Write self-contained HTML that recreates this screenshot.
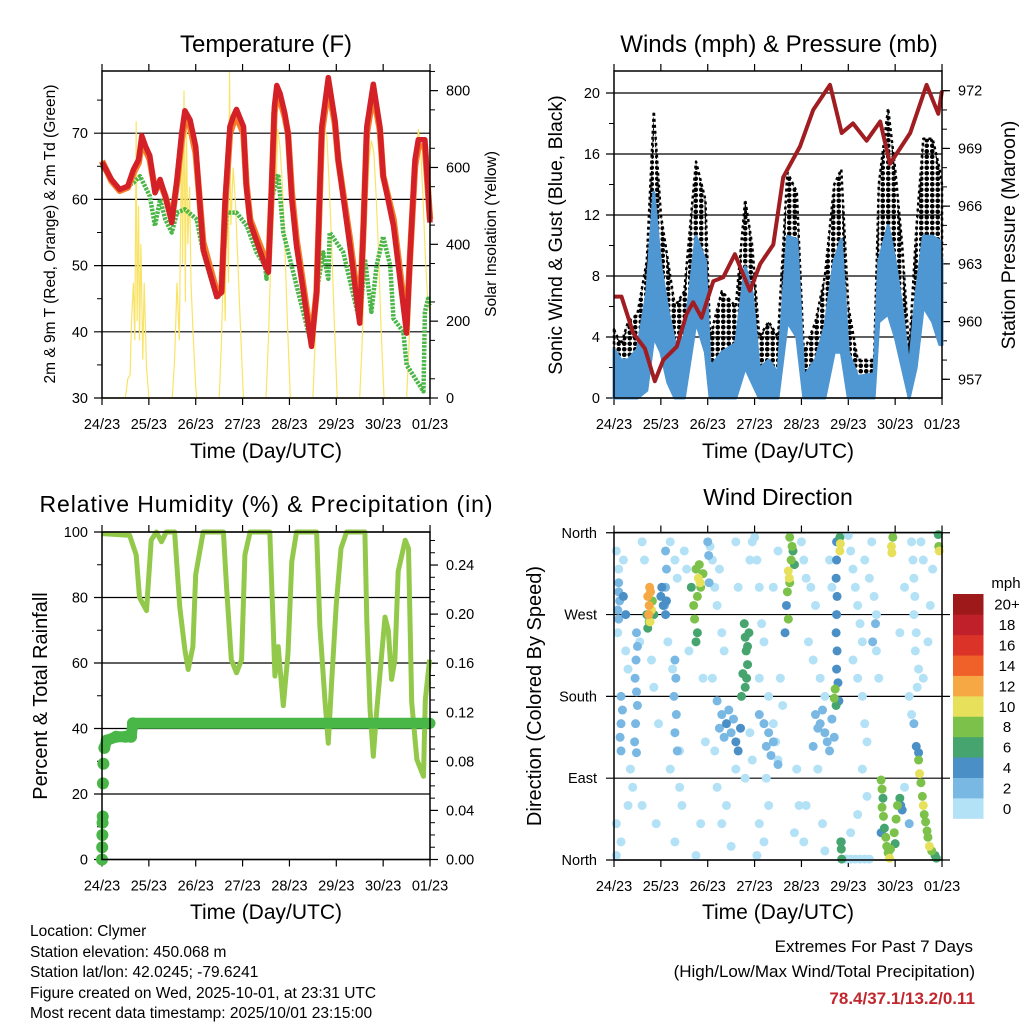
<!DOCTYPE html>
<html><head><meta charset="utf-8"><title>Clymer station meteogram</title>
<style>
html,body{margin:0;padding:0;background:#fff;}
svg{display:block;font-family:"Liberation Sans",Arial,sans-serif;}
</style></head>
<body>
<svg id="chart" width="1024" height="1024" viewBox="0 0 1024 1024" xmlns="http://www.w3.org/2000/svg">
<defs>
<pattern id="gustdots" width="5.5" height="5.5" patternUnits="userSpaceOnUse"><circle cx="2.75" cy="2.75" r="2.3" fill="#000"/></pattern>
</defs>
<rect x="0" y="0" width="1024" height="1024" fill="#fff"/>
<text x="266" y="52" font-size="24" text-anchor="middle">Temperature (F)</text>
<text x="779" y="52" font-size="24" text-anchor="middle">Winds (mph) &amp; Pressure (mb)</text>
<text x="266" y="512" font-size="23" text-anchor="middle" textLength="453">Relative Humidity (%) &amp; Precipitation (in)</text>
<text x="778" y="505" font-size="23" text-anchor="middle">Wind Direction</text>
<text transform="translate(55,234) rotate(-90)" font-size="15.5" text-anchor="middle">2m &amp; 9m T (Red, Orange) &amp; 2m Td (Green)</text>
<text transform="translate(496,234) rotate(-90)" font-size="15.5" text-anchor="middle">Solar Insolation (Yellow)</text>
<text transform="translate(562,235) rotate(-90)" font-size="19.5" text-anchor="middle">Sonic Wind &amp; Gust (Blue, Black)</text>
<text transform="translate(1015,235) rotate(-90)" font-size="19.5" text-anchor="middle">Station Pressure (Maroon)</text>
<text transform="translate(47,696) rotate(-90)" font-size="20" text-anchor="middle">Percent &amp; Total Rainfall</text>
<text transform="translate(541,696) rotate(-90)" font-size="20" text-anchor="middle">Direction (Colored By Speed)</text>
<text x="266" y="458" font-size="21" text-anchor="middle">Time (Day/UTC)</text>
<text x="778" y="458" font-size="21" text-anchor="middle">Time (Day/UTC)</text>
<text x="266" y="919" font-size="21" text-anchor="middle">Time (Day/UTC)</text>
<text x="778" y="919" font-size="21" text-anchor="middle">Time (Day/UTC)</text>
<g font-size="15.5">
<text x="30" y="936">Location: Clymer</text>
<text x="30" y="957">Station elevation: 450.068 m</text>
<text x="30" y="977">Station lat/lon: 42.0245; -79.6241</text>
<text x="30" y="998">Figure created on Wed, 2025-10-01, at 23:31 UTC</text>
<text x="30" y="1018">Most recent data timestamp: 2025/10/01 23:15:00</text>
</g>
<g font-size="17" text-anchor="end">
<text x="973" y="952">Extremes For Past 7 Days</text>
<text x="975" y="977">(High/Low/Max Wind/Total Precipitation)</text>
<text x="975" y="1004" font-weight="bold" fill="#c1272d">78.4/37.1/13.2/0.11</text>
</g>
</svg>
<script>
// ---------- data ----------
const dayLabels=["24/23","25/23","26/23","27/23","28/23","29/23","30/23","01/23"];
const tempTicks=[30,40,50,60,70];
const solarTicks=[0,200,400,600,800];
const windTicks=[0,4,8,12,16,20];
const presTicks=[957,960,963,966,969,972];
const rhTicks=[0,20,40,60,80,100];
const precipTicks=["0.00","0.04","0.08","0.12","0.16","0.20","0.24"];
const dirTicks=[0,90,180,270,360];
const dirLabels=["North","East","South","West","North"];

const redT=[0,0.2,0.38,0.55,0.67,0.78,0.85,0.93,1.02,1.13,1.24,1.35,1.49,1.6,1.7,1.77,1.88,2.0,2.16,2.45,2.55,2.63,2.73,2.8,2.87,3.02,3.08,3.16,3.48,3.55,3.62,3.68,3.73,3.8,3.9,3.97,4.05,4.15,4.47,4.58,4.69,4.83,4.97,5.04,5.29,5.5,5.58,5.65,5.79,5.93,6.0,6.22,6.5,6.57,6.68,6.75,6.89,7.0];
const redV=[65.6,63,61.5,62,64.5,66,69.6,68,66.6,61,63,60.5,56.5,63,70,73.4,72,68,52.4,45.3,46,60,71,72.5,73.6,71,62,56.5,50,49,62,74,77.2,76,73,70,60,53,37.8,46,71,78.4,72,66,53,41.3,56,71,77.4,71,63.5,56,39.8,51,66,69,69,56.5];
const orangeV=[65.8,62.8,61.3,61.8,64,65.5,68.5,67.5,66,61.5,62.5,60.5,57,62.5,69,72,71,67,53.5,46,46,59,70,71.5,72.5,70,62.5,57,51,50,61,73,76,75,72.5,70,61,54,38.5,46,70,77,71.5,66,54,42.5,56,70,76,70.5,63.5,57,41,51,65,68,68,57];
const greenT=[0,0.38,0.67,0.81,1.02,1.13,1.24,1.35,1.49,1.6,1.77,2.02,2.16,2.45,2.55,2.66,2.87,3.09,3.3,3.48,3.51,3.62,3.76,3.87,4.01,4.47,4.58,4.72,4.83,4.86,5.15,5.5,5.61,5.75,5.86,6.0,6.15,6.22,6.43,6.5,6.68,6.86,6.89,6.96,7.0];
const greenV=[65,61.5,62.5,63.5,60.5,56,60,57,55,58,58.5,57,52,45,46,58,58,56,52,50,48,60,63.8,55,51,38,46,52,48,55,52,41.5,51,43,50,54.4,50,42,40,35,33,31,43,45,44];
const solarT=[0,0.5,0.55,0.6,0.63,0.67,0.7,0.73,0.75,0.78,0.8,0.83,0.87,0.9,0.95,1.0,1.5,1.55,1.6,1.65,1.7,1.72,1.75,1.78,1.8,1.83,1.87,1.9,1.95,2.0,2.02,2.5,2.55,2.6,2.63,2.66,2.7,2.72,2.75,2.8,2.85,2.9,2.95,3.0,3.02,3.5,3.55,3.6,3.65,3.7,3.72,3.75,3.8,3.85,3.9,3.95,4.0,4.02,4.5,4.55,4.6,4.65,4.7,4.72,4.75,4.8,4.85,4.9,4.95,5.0,5.02,5.5,5.55,5.6,5.65,5.7,5.75,5.8,5.85,5.9,5.95,6.0,6.02,6.5,6.55,6.6,6.65,6.7,6.75,6.8,6.85,6.9,6.95,7.0];
const solarV=[0,0,50,60,200,300,150,720,200,500,150,400,100,300,80,0,0,100,300,150,700,350,800,250,750,400,550,300,150,30,0,0,150,400,200,600,300,850,450,600,500,350,200,50,0,0,150,350,500,620,560,700,650,550,400,220,60,0,0,150,350,500,650,600,700,680,550,400,220,60,0,0,140,330,500,620,670,640,530,380,200,50,0,0,130,330,480,600,700,650,520,370,250,220];

const windT=[0,0.15,0.3,0.5,0.7,0.85,1.0,1.15,1.3,1.5,1.75,1.95,2.05,2.3,2.6,2.8,2.95,3.1,3.3,3.5,3.7,3.9,4.05,4.3,4.5,4.7,4.85,5.0,5.2,5.55,5.65,5.85,6.0,6.15,6.3,6.45,6.6,6.8,6.95,7.0];
const windHi=[3.2,2.5,2.5,3.2,6.9,13.5,8.6,5.8,3.6,4,10.6,9,2,3,3.6,8.6,6.9,1.9,2.5,1.6,10.6,10.4,1.4,2.5,4.7,9,10.4,3,1.4,1.6,9,11.3,9,5.8,1.9,6.9,10.6,10.6,10.3,9];
const windLo=[0,0,0,0,0.5,4,3,1,0,0,5,3,0,0,0,2,1,0,0,0,5,4,0,0,0,3,3,0,0,0,5,5.5,4,2,0,2,6,5,3.5,3.5];
const gustHi=[4.5,3.5,5,5.5,9,18.8,12,9,6,7,15.5,13,4,7,6,13,10,4,5,4,14.8,13.5,3,5,8,14,15,6,2.5,2.5,14,19,15,10,3,11,17,17,15,14];
const presT=[0,0.16,0.41,0.66,0.87,1.05,1.34,1.55,1.69,1.87,2.12,2.33,2.58,2.9,3.12,3.4,3.61,3.97,4.25,4.61,4.86,5.1,5.39,5.68,5.89,6.32,6.67,6.92,7.0];
const presV=[961.3,961.3,959.4,958.6,956.9,958,958.7,960.4,961,960.2,962.1,962.3,963.5,961.6,963,964,967.5,969.1,971,972.3,969.8,970.3,969.4,970.4,968.2,969.8,972.3,970.8,972];

const rhT=[0,0.59,0.73,0.8,0.95,1.05,1.16,1.27,1.37,1.55,1.66,1.77,1.84,1.94,2.0,2.16,2.59,2.66,2.76,2.87,2.98,3.05,3.16,3.58,3.65,3.69,3.76,3.87,3.97,4.05,4.15,4.58,4.65,4.76,4.83,4.9,5.0,5.1,5.22,5.61,5.65,5.72,5.79,5.86,5.97,6.04,6.11,6.18,6.25,6.32,6.47,6.54,6.61,6.72,6.86,6.9,6.99];
const rhV=[99.5,99,93,80,76,97.5,100,97,100,100,77,64,58,65,87,100,100,83,61,57,61,93,100,100,73,56,65,47,63,91,100,100,71,48,35.5,54,78,95,100,100,73,46,31.5,45,63,74,70,55,61,88,97.5,95,48,30.5,25.4,48.7,61];
const precT=[0,0.004,0.008,0.012,0.016,0.02,0.03,0.05,0.1,0.3,0.5,0.62,0.66,1,2,3,4,5,6,7];
const precV=[0,0.01,0.02,0.03,0.035,0.062,0.078,0.091,0.097,0.1,0.1,0.1,0.111,0.111,0.111,0.111,0.111,0.111,0.111,0.111];

const speedColors=["#b3e1f6","#7ab8e4","#4a8fc6","#46a46e","#7cc24a","#e6e05a","#f6a845","#ef6128","#dc3328","#c0202a","#9e1a1a"];
const speedLabels=["0","2","4","6","8","10","12","14","16","18","20+"];
const obsSpeed1=[[0.05,340],[0.1,320],[0.2,330],[0.08,250],[0.25,230],[0.3,210],[0.35,100],[0.05,40],[0.15,20],[0.05,5],[0.3,60],[0.4,80],[0.6,350],[0.65,330],[0.55,240],[0.6,60],[0.9,40],[0.8,220],[0.85,190],[0.95,150],[1.2,350],[1.3,330],[1.35,310],[1.15,240],[1.25,210],[1.4,120],[1.45,60],[1.3,20],[1.5,340],[1.55,320],[1.6,230],[1.2,100],[1.4,80],[1.9,200],[1.95,130],[1.85,40],[1.75,5],[2.05,345],[2.1,330],[2.15,300],[2.2,280],[2.3,250],[2.25,320],[2.35,230],[2.1,200],[2.15,120],[2.2,80],[2.3,40],[2.5,15],[2.4,60],[2.6,350],[2.65,300],[2.9,330],[2.95,350],[2.6,100],[2.8,90],[2.9,140],[2.95,110],[3.0,355],[3.05,330],[3.1,300],[3.15,260],[3.2,240],[3.1,200],[3.3,180],[3.4,150],[3.45,130],[3.5,110],[3.25,90],[3.3,60],[3.1,40],[3.2,20],[3.05,5],[3.4,300],[3.5,340],[3.55,200],[3.6,170],[3.9,100],[3.95,60],[3.85,30],[4.0,350],[4.05,330],[4.1,310],[4.2,300],[4.3,280],[4.15,240],[4.25,220],[4.4,200],[4.5,180],[4.35,100],[4.1,60],[4.45,40],[4.6,330],[4.65,300],[4.05,20],[4.5,10],[5.0,357],[5.05,340],[5.1,320],[5.15,300],[5.2,280],[5.25,260],[5.3,240],[5.1,220],[5.2,200],[5.3,180],[5.35,150],[5.4,130],[5.3,100],[5.4,70],[5.2,50],[5.05,30],[4.95,1],[5.05,1],[5.15,1],[5.25,1],[5.35,1],[5.45,1],[5.35,330],[5.45,310],[5.55,290],[5.6,270],[5.5,350],[5.6,230],[5.65,200],[6.35,350],[6.38,330],[6.4,310],[6.42,290],[6.4,270],[6.45,250],[6.43,230],[6.5,210],[6.47,190],[6.55,350],[6.6,330],[6.2,300],[6.1,250],[6.3,180],[6.35,160],[6.6,200],[6.7,240],[6.75,280],[6.8,320],[6.2,80]];
const obsSpeed3=[[0.1,305],[0.1,295],[0.12,285],[0.08,275],[0.1,265],[0.48,250],[0.5,235],[0.47,220],[0.45,200],[0.48,185],[0.5,170],[0.46,150],[0.44,130],[0.48,118],[0.15,180],[0.18,165],[0.15,150],[0.13,135],[0.15,120],[1.1,340],[1.12,320],[1.1,300],[1.08,280],[1.3,220],[1.32,200],[1.28,180],[1.33,160],[1.3,140],[1.35,120],[2.0,350],[2.02,335],[2.03,305],[2.2,175],[2.3,160],[2.5,140],[2.55,155],[2.35,135],[2.45,165],[2.25,145],[3.1,160],[3.2,150],[3.3,140],[3.4,130],[3.35,115],[3.5,105],[3.25,125],[4.3,160],[4.4,150],[4.5,140],[4.55,130],[4.6,120],[4.45,165],[4.35,145],[4.65,155],[4.7,135],[4.25,125],[5.58,260],[5.52,240],[6.4,150],[6.3,40]];
const obsSpeed5=[[1.0,290],[1.05,280],[1.1,270],[1.02,300],[1.12,285],[2.4,150],[2.6,130],[2.7,145],[2.65,120],[3.68,280],[3.65,250],[4.75,350],[4.75,330],[4.74,310],[4.76,290],[4.75,270],[4.74,250],[4.76,230],[4.75,210],[4.78,195],[4.8,175],[6.45,125],[6.5,118],[6.12,60],[6.15,55],[4.85,20],[5.7,30],[0.2,290],[0.25,270]];
const obsSpeed7=[[2.78,260],[2.8,245],[2.82,230],[2.85,215],[2.83,200],[2.8,190],[2.88,250],[2.85,235],[2.75,205],[2.72,180],[0.7,270],[0.72,255],[0.85,270],[1.65,300],[1.78,250],[1.75,240],[3.82,340],[3.85,325],[4.74,170],[4.84,20],[4.85,12],[4.86,1],[4.82,355],[5.77,35],[5.74,68],[6.1,68],[6.0,18],[6.92,358],[6.85,5],[6.88,2]];
const obsSpeed9=[[0.75,262],[0.82,285],[1.75,320],[1.85,300],[1.78,290],[1.7,280],[1.72,265],[1.9,315],[1.82,325],[3.75,355],[3.8,345],[3.78,330],[3.75,305],[3.7,295],[3.72,265],[4.72,188],[4.7,178],[5.7,88],[5.72,78],[5.72,58],[5.75,48],[5.8,25],[5.82,15],[5.85,8],[5.9,12],[6.05,60],[6.02,45],[5.98,30],[6.55,85],[6.58,70],[6.62,50],[6.65,42],[6.68,32],[6.7,25],[6.78,10],[6.93,345],[5.95,355],[6.5,110]];
const obsSpeed11=[[0.8,275],[0.77,262],[1.8,310],[1.84,305],[3.72,318],[3.74,310],[4.83,348],[4.82,340],[5.92,345],[5.93,338],[6.52,95],[6.6,60],[6.73,15],[6.94,340],[5.88,2]];
const obsSpeed13=[[0.72,290],[0.75,280],[0.78,295],[0.76,300],[0.74,270]];
const obsGroups=[obsSpeed1,obsSpeed3,obsSpeed5,obsSpeed7,obsSpeed9,obsSpeed11,obsSpeed13];
const obsGroupSpeeds=[1,3,5,7,9,11,13];

// ---------- helpers ----------
const NS='http://www.w3.org/2000/svg';
const svg=document.getElementById('chart');
function mk(tag,attrs,parent){const e=document.createElementNS(NS,tag);for(const k in attrs)e.setAttribute(k,attrs[k]);(parent||svg).appendChild(e);return e;}
const DAY=46.86;
const P1={x0:102,x1:430,y0:71,y1:398};
const P2={x0:614,x1:942,y0:71,y1:398};
const P3={x0:102,x1:430,y0:532,y1:859.5};
const P4={x0:614,x1:942,y0:532.5,y1:860};
const xL=t=>P1.x0+t*DAY, xR=t=>P2.x0+t*DAY;
const yTemp=v=>398-(v-30)*6.62;
const ySolar=v=>398-v*0.3842;
const yWind=v=>398-v*15.25;
const yPres=v=>379.3-(v-957)*19.24;
const yRH=v=>859.5-v*3.275;
const yPrec=v=>859.5-v*1227;
const yDir=v=>860-v*0.909;
function pts(T,V,fx,fy){return T.map((t,i)=>fx(t).toFixed(1)+','+fy(V[i]).toFixed(1)).join(' ');}
function colorOf(s){return speedColors[Math.min(10,Math.max(0,Math.floor(s/2)))];}

function frame(P,name,leftMinor,leftMajorYs,rightYs,rightMinorYs,gridRight){
  const g=mk('g',{});
  
  
  leftMajorYs.forEach(y=>{
    const l=mk('line',{x1:P.x0-8,x2:P.x1+(gridRight?8:0),y1:y,y2:y,stroke:'#000','stroke-width':1.2},g);
    
    
  });
  leftMinor.forEach(y=>{
    const l=mk('line',{x1:P.x0-5,x2:P.x0,y1:y,y2:y,stroke:'#000','stroke-width':1},g);
    
    
  });
  rightYs.forEach(y=>{
    const l=mk('line',{x1:P.x1,x2:P.x1+8,y1:y,y2:y,stroke:'#000','stroke-width':1.2},g);
    
    
  });
  rightMinorYs.forEach(y=>{
    const l=mk('line',{x1:P.x1,x2:P.x1+5,y1:y,y2:y,stroke:'#000','stroke-width':1},g);
    
    
  });
  dayLabels.forEach((d,i)=>{
    const x=P.x0+i*DAY;
    const a=mk('line',{x1:x,x2:x,y1:P.y0-7,y2:P.y0,stroke:'#000','stroke-width':1.2},g);
    
    
    const b=mk('line',{x1:x,x2:x,y1:P.y1,y2:P.y1+7,stroke:'#000','stroke-width':1.2},g);
    
    
    const tx=mk('text',{x:x,y:P.y1+31,'font-size':14.5,'text-anchor':'middle'},g);
    
    
    tx.textContent=d;
  });
}
function boxRect(P,name){
  const r=mk('rect',{x:P.x0,y:P.y0,width:P.x1-P.x0,height:P.y1-P.y0,fill:'none',stroke:'#000','stroke-width':1.5});
  
  
}
function label(x,y,txt,anchor,name){
  const t=mk('text',{x:x,y:y,'font-size':14.5,'text-anchor':anchor});
  
  
  t.textContent=txt;
}
function range(a,b,s){const r=[];for(let v=a;v<=b+1e-9;v+=s)r.push(v);return r;}

// ---------- Panel 1: temperature ----------
frame(P1,'temperature',range(35,75,10).map(yTemp),tempTicks.map(yTemp),solarTicks.map(ySolar),range(50,850,100).map(ySolar),false);
tempTicks.forEach(v=>label(P1.x0-14,yTemp(v)+5,String(v),'end','temperature-y-tick-label'));
solarTicks.forEach(v=>label(P1.x1+16,ySolar(v)+5,String(v),'start','solar-y-tick-label'));
const solarLine=mk('polyline',{points:pts(solarT,solarV,xL,ySolar),fill:'none',stroke:'#f9e366','stroke-width':1.2});


const greenLine=mk('polyline',{points:pts(greenT,greenV,xL,yTemp),fill:'none',stroke:'#4bb648','stroke-width':4.5,'stroke-dasharray':'2.5 1.2','stroke-linejoin':'round'});


const orangeLine=mk('polyline',{points:pts(redT,orangeV,xL,yTemp),fill:'none',stroke:'#f47d2a','stroke-width':6.5,'stroke-linejoin':'round'});


const redLine=mk('polyline',{points:pts(redT,redV,xL,yTemp),fill:'none',stroke:'#d42027','stroke-width':5.5,'stroke-linejoin':'round'});


boxRect(P1,'temperature');

// ---------- Panel 2: winds & pressure ----------
frame(P2,'winds',range(2,18,4).map(yWind),windTicks.map(yWind),presTicks.map(yPres),range(957,972,1).map(yPres),false);
windTicks.forEach(v=>label(P2.x0-14,yWind(v)+5,String(v),'end','wind-y-tick-label'));
presTicks.forEach(v=>label(P2.x1+16,yPres(v)+5,String(v),'start','pressure-y-tick-label'));
function band(T,lo,hi,fx,fy){const up=T.map((t,i)=>fx(t).toFixed(1)+','+fy(hi[i]).toFixed(1));const dn=T.map((t,i)=>fx(t).toFixed(1)+','+fy(lo[i]).toFixed(1)).reverse();return up.concat(dn).join(' ');}
const gustBand=mk('polygon',{points:band(windT,windLo,gustHi,xR,yWind),fill:'url(#gustdots)',stroke:'#000','stroke-width':2.5,'stroke-dasharray':'3 3','stroke-linejoin':'round'});


const windBand=mk('polygon',{points:band(windT,windLo,windHi,xR,yWind),fill:'#4f97d3',stroke:'#4f97d3','stroke-width':3,'stroke-linejoin':'round'});


const presLine=mk('polyline',{points:pts(presT,presV,xR,yPres),fill:'none',stroke:'#a01d22','stroke-width':4,'stroke-linejoin':'round'});


boxRect(P2,'winds');

// ---------- Panel 3: RH & precip ----------
const precTickVals=precipTicks.map(Number);
frame(P3,'humidity',range(10,90,20).map(yRH),rhTicks.map(yRH),precTickVals.map(yPrec),range(0.01,0.26,0.01).map(yPrec),false);
rhTicks.forEach(v=>label(P3.x0-14,yRH(v)+5,String(v),'end','humidity-y-tick-label'));
precipTicks.forEach(v=>label(P3.x1+16,yPrec(Number(v))+5,v,'start','precip-y-tick-label'));
const rhLine=mk('polyline',{points:pts(rhT,rhV,xL,yRH),fill:'none',stroke:'#93c94b','stroke-width':5,'stroke-linejoin':'round'});


const precLine=mk('polyline',{points:pts(precT.slice(7),precV.slice(7),xL,yPrec),fill:'none',stroke:'#49b648','stroke-width':11,'stroke-linecap':'round','stroke-linejoin':'round'});


precT.forEach((t,i)=>{
  if(i>12)return;
  const c=mk('circle',{cx:xL(t),cy:yPrec(precV[i]),r:6,fill:'#49b648'});
  
  
});
boxRect(P3,'humidity');

// ---------- Panel 4: wind direction ----------
frame(P4,'direction',[],dirTicks.map(yDir),[],[],true);
dirTicks.forEach((v,i)=>label(P4.x0-17,yDir(v)+5,dirLabels[i],'end','direction-y-tick-label'));
obsGroups.forEach((grp,gi)=>{
  const col=colorOf(obsGroupSpeeds[gi]);
  grp.forEach(p=>{
    const c=mk('circle',{cx:xR(p[0]),cy:yDir(p[1]),r:4.5,fill:col});
    
    
  });
});
boxRect(P4,'direction');

// colorbar
const cb=mk('g',{});


const cbTop=594,cbBot=818.5,cbH=(cbBot-cbTop)/speedColors.length;
speedColors.forEach((col,i)=>{
  const k=speedColors.length-1-i;
  const r=mk('rect',{x:953,y:cbTop+k*cbH,width:30.5,height:cbH+0.3,fill:col},cb);
  
  
  const t=mk('text',{x:1007,y:cbTop+k*cbH+cbH/2+5.5,'font-size':15,'text-anchor':'middle'},cb);
  
  
  t.textContent=speedLabels[i];
});
const mph=mk('text',{x:1006,y:588,'font-size':15,'text-anchor':'middle'},cb);


mph.textContent='mph';
</script>
</body></html>
